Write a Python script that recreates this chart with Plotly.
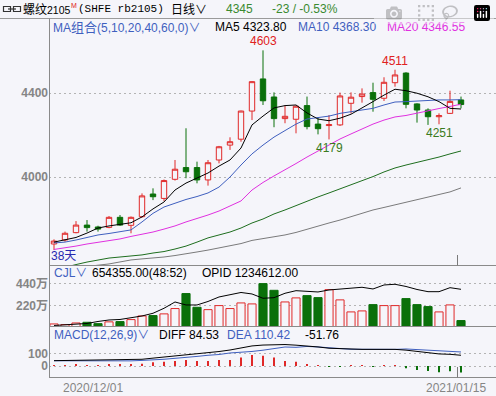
import plotly.graph_objects as go

W, H = 496, 396
BG = "#F5F5FA"
RED = "#E02828"
GREEN = "#0A700A"
BLUE = "#3F5FBF"
MAGENTA = "#E030E0"
GRAY_TXT = "#858585"
LINE_GRAY = "#8A8A8A"

# ---------------- data ----------------
OPEN = [3681, 3700, 3735, 3771, 3762, 3760, 3808, 3770, 3811, 3919, 3898, 3989, 4045, 4045, 3986,
        4081, 4152, 4180, 4314, 4467, 4381, 4278, 4275, 4340, 4252, 4245, 4248, 4351, 4383, 4402,
        4375, 4449, 4495, 4348, 4319, 4287, 4303, 4367]
HIGH = [3703, 3740, 3790, 3795, 3768, 3814, 3819, 3812, 3922, 3946, 3988, 4081, 4232, 4073, 4081,
        4148, 4189, 4316, 4456, 4603, 4403, 4340, 4340, 4383, 4284, 4295, 4402, 4403, 4422, 4449,
        4475, 4511, 4499, 4351, 4327, 4303, 4411, 4383]
LOW = [3652, 3692, 3732, 3740, 3740, 3756, 3767, 3732, 3806, 3890, 3886, 3983, 3994, 3970, 3959,
       4065, 4129, 4168, 4271, 4343, 4237, 4256, 4208, 4227, 4203, 4179, 4243, 4303, 4354, 4311,
       4362, 4430, 4327, 4259, 4248, 4251, 4300, 4327]
CLOSE = [3695, 3732, 3771, 3759, 3752, 3808, 3771, 3808, 3910, 3906, 3983, 4037, 4025, 3986, 4068,
         4144, 4168, 4314, 4454, 4363, 4278, 4289, 4337, 4240, 4230, 4249, 4386, 4380, 4395, 4370,
         4451, 4486, 4346, 4319, 4287, 4292, 4360, 4345]

MA5 = [3690, 3700, 3712, 3733, 3757, 3767, 3776, 3782, 3810, 3848, 3881, 3938, 3971, 3995, 4019,
       4052, 4081, 4138, 4248, 4290, 4329, 4340, 4343, 4305, 4276, 4268, 4280, 4299, 4327, 4359,
       4390, 4418, 4411, 4399, 4382, 4359, 4327, 4323.8]
MA10 = [3686, 3690, 3700, 3712, 3724, 3731, 3738, 3748, 3786, 3827, 3857, 3876, 3893, 3907, 3924,
        3952, 4000, 4057, 4110, 4152, 4190, 4221, 4252, 4276, 4283, 4290, 4303, 4310, 4317, 4327,
        4343, 4357, 4359, 4362, 4367, 4367, 4367, 4368.3]
MA20 = [3655, 3662, 3671, 3681, 3688, 3695, 3705, 3717, 3726, 3738, 3752, 3767, 3786, 3802, 3819,
        3838, 3862, 3886, 3938, 3974, 4005, 4033, 4064, 4095, 4124, 4152, 4181, 4205, 4229, 4252,
        4271, 4286, 4293, 4305, 4314, 4326, 4336, 4346.55]
MA40 = [3557, 3571, 3583, 3595, 3605, 3614, 3619, 3624, 3629, 3638, 3645, 3657, 3671, 3690, 3710,
        3724, 3738, 3757, 3781, 3800, 3824, 3843, 3864, 3886, 3905, 3924, 3943, 3962, 3981, 4002,
        4024, 4043, 4057, 4069, 4081, 4095, 4110, 4124]
MA60 = [3555, 3562, 3568, 3574, 3580, 3586, 3595, 3605, 3610, 3614, 3619, 3626, 3633, 3643, 3652,
        3662, 3671, 3683, 3698, 3707, 3714, 3724, 3736, 3752, 3767, 3781, 3795, 3812, 3829, 3843,
        3855, 3867, 3879, 3890, 3902, 3914, 3929, 3948]

# volume (万手) and open interest (万手)
VOL = [31, 24, 41, 48, 34, 52, 55, 75, 112, 116, 133, 187, 339, 200, 176, 217, 187, 244, 234, 440,
       372, 254, 295, 318, 298, 379, 275, 153, 163, 227, 217, 217, 288, 227, 207, 153, 224, 65.4355]
OPID = [51.1, 52.1, 54.1, 55.1, 59.1, 62.1, 63.1, 66.1, 70.1, 75.5, 85.5, 98.1, 92.1, 92.1, 99.1,
        108.1, 112.1, 117.1, 114.1, 105.5, 106.7, 115.5, 120.7, 119.1, 118.1, 122.1, 124.1, 126.1,
        127.5, 124.1, 132.1, 133.5, 129.1, 123.1, 118.7, 118.7, 126.7, 123.4612]

DIFF = [42, 43, 44, 44, 44, 45, 45, 47, 53, 62, 70, 80, 89, 95, 104, 114, 126, 140, 158, 165, 169,
        169, 164, 158, 150, 140, 136, 132, 131, 131, 131, 131, 125, 114, 103, 95, 92, 84.53]
DEA = [41, 40.5, 40, 41.5, 41.5, 41, 41, 40.5, 44, 47.5, 53, 60.5, 65.5, 75.5, 84.5, 90.5, 102.5,
       107, 114.5, 124.5, 136, 149.5, 147, 154, 150, 141.5, 137.5, 132, 131, 132.5, 131, 131, 134,
       129.5, 122.5, 120, 114, 110.42]
MACD = [2, 5, 8, 5, 5, 8, 8, 13, 18, 29, 34, 39, 47, 39, 39, 47, 47, 66, 87, 81, 66, 39, 34, 8, 1,
        -3, -3, 1, 1, -3, 1, 1, -18, -31, -39, -50, -42, -51.76]

PRICE_TICKS = [4000, 4400]
VOL_TICKS = [220, 440]
VOL_TICK_TEXT = ["220万", "440万"]
MACD_TICKS = [0, 100]
DATE_POS = [3.5, 36.5]
DATE_LABELS = ["2020/12/01", "2021/01/15"]
MARKS = [(19, 4603, "4603", "top"), (31, 4511, "4511", "top"), (25, 4179, "4179", "bottom"),
         (35, 4251, "4251", "bottom")]

N = len(CLOSE)
IDX = list(range(N))
UP = [c >= o for o, c in zip(OPEN, CLOSE)]

FONT = "Liberation Sans, Noto Sans CJK SC, sans-serif"


def px(x):
    return x / W


def py(y):
    return 1 - y / H


fig = go.Figure()

# ---- main price panel ----
fig.add_trace(go.Candlestick(
    x=IDX, open=OPEN, high=HIGH, low=LOW, close=CLOSE,
    increasing=dict(line=dict(color=RED, width=1), fillcolor=BG),
    decreasing=dict(line=dict(color=GREEN, width=1), fillcolor=GREEN),
    xaxis="x", yaxis="y", showlegend=False, hoverinfo="skip"))

for vals, col in [(MA60, "#7A7A7A"), (MA40, "#1E6E1E"), (MA20, MAGENTA), (MA10, BLUE), (MA5, "#000000")]:
    fig.add_trace(go.Scatter(x=IDX, y=vals, mode="lines", line=dict(color=col, width=1),
                             xaxis="x", yaxis="y", showlegend=False, hoverinfo="skip"))

# ---- volume panel ----
fig.add_trace(go.Bar(
    x=IDX, y=VOL, width=0.74,
    marker=dict(color=[BG if u else GREEN for u in UP],
                line=dict(color=[RED if u else GREEN for u in UP], width=1)),
    xaxis="x", yaxis="y2", showlegend=False, hoverinfo="skip"))
fig.add_trace(go.Scatter(x=IDX, y=OPID, mode="lines", line=dict(color="#000000", width=1),
                         xaxis="x", yaxis="y4", showlegend=False, hoverinfo="skip"))

# ---- MACD panel ----
fig.add_trace(go.Bar(
    x=IDX, y=MACD, width=0.14,
    marker=dict(color=[RED if v >= 0 else GREEN for v in MACD], line=dict(width=0)),
    xaxis="x", yaxis="y3", showlegend=False, hoverinfo="skip"))
fig.add_trace(go.Scatter(x=IDX, y=DEA, mode="lines", line=dict(color=BLUE, width=1),
                         xaxis="x", yaxis="y3", showlegend=False, hoverinfo="skip"))
fig.add_trace(go.Scatter(x=IDX, y=DIFF, mode="lines", line=dict(color="#000000", width=1),
                         xaxis="x", yaxis="y3", showlegend=False, hoverinfo="skip"))

# ---- axes ----
X0 = -5 / 11
X1 = X0 + (W - 49) / 11


def price_at(y):
    return 4400 - (y - 93) * 400 / 84


grid = dict(showgrid=True, gridcolor="#B4B4B4", griddash="2px,3px", gridwidth=1,
            zeroline=False, showline=False, ticks="",
            tickfont=dict(family=FONT, size=12, color=GRAY_TXT, weight="bold"),
            anchor="x", fixedrange=True)

fig.update_layout(
    width=W, height=H, margin=dict(l=0, r=0, t=0, b=0),
    paper_bgcolor=BG, plot_bgcolor=BG, barmode="overlay", hovermode=False,
    xaxis=dict(domain=[px(49), 1], range=[X0, X1], visible=False,
               rangeslider=dict(visible=False), fixedrange=True),
    yaxis=dict(domain=[py(265), py(36)], range=[price_at(265), price_at(36)],
               tickvals=PRICE_TICKS, **grid),
    yaxis2=dict(domain=[py(327), py(277)], range=[0, 50 * 220 / 21.7],
                tickvals=VOL_TICKS, ticktext=VOL_TICK_TEXT, **grid),
    yaxis3=dict(domain=[py(377), py(340)], range=[-(377 - 366) * 100 / 12.7, (366 - 340) * 100 / 12.7],
                tickvals=MACD_TICKS, **grid),
    yaxis4=dict(overlaying="y2", anchor="x", range=[48.06, 148.06], visible=False, fixedrange=True),
)

# ---- frame lines ----
shapes = []
def hline(y, x0=49, x1=W, color=LINE_GRAY):
    shapes.append(dict(type="line", xref="paper", yref="paper", x0=px(x0), x1=px(x1),
                       y0=py(y), y1=py(y), line=dict(color=color, width=1)))

def vline(x, y0, y1, color=LINE_GRAY):
    shapes.append(dict(type="line", xref="paper", yref="paper", x0=px(x), x1=px(x),
                       y0=py(y0), y1=py(y1), line=dict(color=color, width=1)))

hline(18.5, 0, W, "#9A9A9A")
hline(265.5)
hline(326.5)
hline(377.5)
vline(49.5, 18.5, 378)
vline(457.5, 255, 265.5, "#7A7A7A")
vline(457.5, 367, 377.5, "#7A7A7A")
# link icon
shapes.append(dict(type="rect", xref="paper", yref="paper", x0=px(3.5), x1=px(10.5), y0=py(11.5),
                   y1=py(6.5), line=dict(color="#333333", width=1.2)))
shapes.append(dict(type="rect", xref="paper", yref="paper", x0=px(13.5), x1=px(20.5), y0=py(11.5),
                   y1=py(6.5), line=dict(color="#333333", width=1.2)))
shapes.append(dict(type="line", xref="paper", yref="paper", x0=px(8), x1=px(16), y0=py(9),
                   y1=py(9), line=dict(color="#333333", width=1.2)))
fig.update_layout(shapes=shapes)

# ---- texts ----
ann = []
def txt(x, y, s, color="#000000", size=12, family=FONT, anchor="left"):
    ann.append(dict(xref="paper", yref="paper", x=px(x), y=py(y), text=s, showarrow=False,
                    xanchor=anchor, yanchor="middle", borderpad=0,
                    font=dict(family=family, size=size, color=color)))

CJK = "Noto Sans CJK SC, sans-serif"
txt(22, 9, "<span style='font-family:Noto Sans CJK SC;font-size:12px'>螺纹</span>"
           "<span style='font-family:Liberation Sans;font-size:10.5px'>2105</span>", "#000000", 12)
txt(69.5, 5, "M", "#E02020", 7)
txt(77, 9, "(SHFE rb2105)", "#000000", 11, "Liberation Mono, monospace")
txt(170, 9, "日线∨", "#000000", 12, CJK)
txt(225, 9, "4345", "#3A8A30", 12)
txt(271, 9, "-23 / -0.53%", "#3A8A30", 12)

txt(52, 26.5, "MA<span style='font-family:Noto Sans CJK SC;font-size:13px'>组合</span>(5,10,20,40,60,0)∨", BLUE, 12)
txt(214, 26.5, "MA5 4323.80", "#000000", 12)
txt(297, 26.5, "MA10 4368.30", BLUE, 12)
txt(386, 26.5, "MA20 4346.55", MAGENTA, 12)

txt(53, 273, "CJL∨", BLUE, 12)
txt(91, 273, "654355.00(48:52)", "#000000", 12)
txt(201, 273, "OPID 1234612.00", "#000000", 12)

txt(53, 335, "MACD(12,26,9)∨", BLUE, 12)
txt(158, 335, "DIFF 84.53", "#000000", 12)
txt(226, 335, "DEA 110.42", BLUE, 12)
txt(304, 335, "-51.76", "#000000", 12)

txt(50, 256, "38天", "#2828B0", 12, "Liberation Sans, Noto Sans CJK SC")

for pos, lab in zip(DATE_POS, DATE_LABELS):
    ann.append(dict(xref="x", yref="paper", x=pos, y=py(388), text=lab, showarrow=False,
                    xanchor="center", yanchor="middle", borderpad=0,
                    font=dict(family=FONT, size=12, color=GRAY_TXT)))

for i, val, lab, side in MARKS:
    ann.append(dict(xref="x", yref="y", x=i, y=val, text=lab, showarrow=False,
                    xanchor="center", yanchor="bottom" if side == "top" else "top",
                    yshift=1 if side == "top" else -1, borderpad=0,
                    font=dict(family=FONT, size=12, color="#E02020" if side == "top" else "#3A7A20")))

fig.update_layout(annotations=ann)

fig.write_html("out.html", post_script="document.body.style.margin='0';document.body.style.overflow='hidden';")
